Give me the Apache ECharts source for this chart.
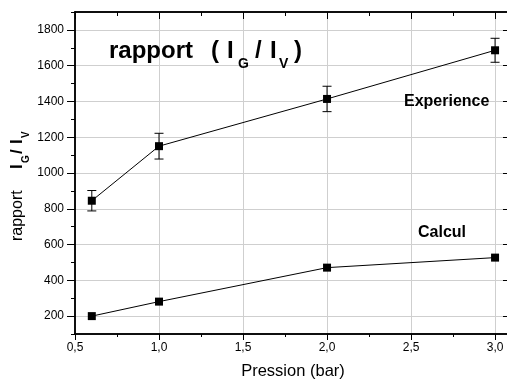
<!DOCTYPE html>
<html>
<head>
<meta charset="utf-8">
<script src="https://cdn.jsdelivr.net/npm/echarts@6/dist/echarts.min.js"></script>
<style>
  html, body { margin: 0; padding: 0; background: #fff; }
  #chart { width: 507px; height: 385px; }
</style>
</head>
<body>
<div id="chart"></div>
<script>
// data
const pressure = [0.6, 1.0, 2.0, 3.0];
const experience = [845, 1150, 1414, 1686];
const experienceErr = [57, 72, 71, 67];
const calcul = [200, 281, 471, 527];
const yTicks = [200, 400, 600, 800, 1000, 1200, 1400, 1600, 1800];

const FONT = '"Liberation Sans", Arial, sans-serif';
const GRID_COLOR = '#cfcfcf';

let chart = echarts.init(document.getElementById('chart'));

function xLabel(v) {
  let k = v * 2;
  if (Math.abs(k - Math.round(k)) > 1e-6 || v > 3.001) return '';
  return v.toFixed(1).replace('.', ',');
}

function txt(x, y, text, font, extra) {
  return Object.assign({
    type: 'text', x: x, y: y, silent: true, z: 100,
    style: {
      text: text, font: font, fill: '#000',
      align: 'left', verticalAlign: 'middle',
      textAlign: 'left', textVerticalAlign: 'middle'
    }
  }, extra || {});
}

let axisBase = {
  type: 'value', min: 0.5, max: 3.083,
  axisLine: { show: true, lineStyle: { color: '#000', width: 1.5 } },
  axisLabel: { show: false },
  splitLine: { show: false }
};

let yBase = {
  type: 'value', min: 100, max: 1900,
  axisLine: { show: true, lineStyle: { color: '#000', width: 1.5 } },
  axisLabel: { show: false },
  splitLine: { show: false }
};

let option = {
  animation: false,
  backgroundColor: '#fff',
  grid: { left: 75, right: -2, top: 12, bottom: 51, containLabel: false, outerBoundsMode: 'none' },
  xAxis: [
    Object.assign({}, axisBase, {
      position: 'bottom', interval: 0.5,
      axisTick: { length: 6, lineStyle: { color: '#000' } },
      axisLabel: { show: true, margin: 8, color: '#000', fontSize: 12, fontFamily: FONT,
        formatter: xLabel },
      splitLine: { show: true, showMinLine: false, showMaxLine: false,
        lineStyle: { color: GRID_COLOR, width: 1 } }
    }),
    Object.assign({}, axisBase, {
      position: 'bottom', interval: 0.25,
      axisTick: { length: 3, lineStyle: { color: '#000' } }
    }),
    Object.assign({}, axisBase, {
      position: 'top', interval: 0.5,
      axisTick: { inside: true, length: 7, lineStyle: { color: '#000' } }
    }),
    Object.assign({}, axisBase, {
      position: 'top', interval: 0.25,
      axisTick: { inside: true, length: 4, lineStyle: { color: '#000' } }
    })
  ],
  yAxis: [
    Object.assign({}, yBase, {
      position: 'left', interval: 100,
      axisTick: { length: 4, lineStyle: { color: '#000' } }
    }),
    Object.assign({}, yBase, {
      position: 'left',
      axisTick: { length: 8, customValues: yTicks, lineStyle: { color: '#000' } },
      axisLabel: { show: true, customValues: yTicks, margin: 11, color: '#000',
        fontSize: 12, fontFamily: FONT, formatter: v => String(v) },
      splitLine: { show: true, lineStyle: { color: GRID_COLOR, width: 1 } }
    }),
    Object.assign({}, yBase, {
      position: 'right',
      axisTick: { inside: true, length: 6, customValues: yTicks, lineStyle: { color: '#000' } }
    })
  ],
  series: [
    {
      name: 'Experience error',
      type: 'custom',
      xAxisIndex: 0, yAxisIndex: 0,
      encode: { x: 0, y: [1, 2] },
      data: pressure.map((p, i) => [p, experience[i] - experienceErr[i], experience[i] + experienceErr[i]]),
      renderItem: function (params, api) {
        let x = api.value(0);
        let top = api.coord([x, api.value(2)]);
        let bot = api.coord([x, api.value(1)]);
        let w = 4.5;
        let st = { stroke: '#000', lineWidth: 1 };
        return {
          type: 'group',
          children: [
            { type: 'line', shape: { x1: top[0], y1: top[1], x2: bot[0], y2: bot[1] }, style: st },
            { type: 'line', shape: { x1: top[0] - w, y1: top[1], x2: top[0] + w, y2: top[1] }, style: st },
            { type: 'line', shape: { x1: bot[0] - w, y1: bot[1], x2: bot[0] + w, y2: bot[1] }, style: st }
          ]
        };
      },
      z: 3
    },
    {
      name: 'Experience',
      type: 'line',
      xAxisIndex: 0, yAxisIndex: 0,
      data: pressure.map((p, i) => [p, experience[i]]),
      symbol: 'rect', symbolSize: 8, showAllSymbol: true,
      itemStyle: { color: '#000' },
      lineStyle: { color: '#000', width: 1 },
      z: 4
    },
    {
      name: 'Calcul',
      type: 'line',
      xAxisIndex: 0, yAxisIndex: 0,
      data: pressure.map((p, i) => [p, calcul[i]]),
      symbol: 'rect', symbolSize: 8, showAllSymbol: true,
      itemStyle: { color: '#000' },
      lineStyle: { color: '#000', width: 1 },
      z: 4
    }
  ],
  graphic: [
    // title inside the plot
    txt(109, 51, 'rapport', 'bold 24px ' + FONT),
    txt(211, 51, '(', 'bold 24px ' + FONT),
    txt(227, 51, 'I', 'bold 24px ' + FONT),
    txt(238, 64, 'G', 'bold 14px ' + FONT),
    txt(255, 51, '/', 'bold 24px ' + FONT),
    txt(270, 51, 'I', 'bold 24px ' + FONT),
    txt(279, 64, 'V', 'bold 14px ' + FONT),
    txt(294, 51, ')', 'bold 24px ' + FONT),
    // series labels
    txt(404, 102, 'Experience', 'bold 16px ' + FONT),
    txt(418, 233, 'Calcul', 'bold 16px ' + FONT),
    // x axis name
    {
      type: 'text', x: 293, y: 371, silent: true, z: 100,
      style: { text: 'Pression (bar)', font: '16.5px ' + FONT, fill: '#000',
        align: 'center', verticalAlign: 'middle', textAlign: 'center', textVerticalAlign: 'middle' }
    },
    // y axis name, rotated
    {
      type: 'group', x: 23, y: 241, rotation: Math.PI / 2, silent: true, z: 100,
      children: [
        txt(0, -5, 'rapport', '16px ' + FONT),
        txt(72, -5.5, 'I', 'bold 17px ' + FONT),
        txt(78, 3, 'G', 'bold 10px ' + FONT),
        txt(87, -5.5, '/', 'bold 17px ' + FONT),
        txt(97, -5.5, 'I', 'bold 17px ' + FONT),
        txt(103, 3, 'V', 'bold 10px ' + FONT)
      ]
    }
  ]
};

chart.setOption(option);
</script>
</body>
</html>
